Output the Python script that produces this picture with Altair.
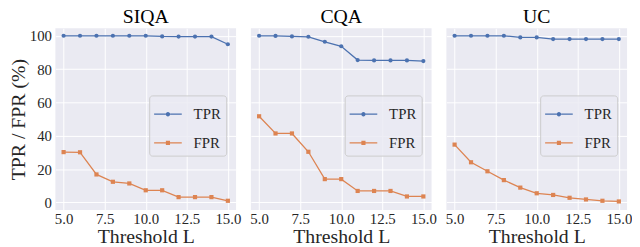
import altair as alt
import pandas as pd

thresholds = [5, 6, 7, 8, 9, 10, 11, 12, 13, 14, 15]
datasets = ["SIQA", "CQA", "UC"]
siqa_tpr = [100, 100, 100, 100, 100, 100, 99.6, 99.5, 99.5, 99.5, 94.9]
siqa_fpr = [30.2, 30.1, 16.8, 12.4, 11.4, 7.3, 7.3, 3.2, 3.2, 3.2, 1.0]
cqa_tpr = [100, 99.9, 99.6, 99.4, 96.4, 93.7, 85.4, 85.2, 85.2, 85.2, 84.8]
cqa_fpr = [51.7, 41.4, 41.4, 30.4, 14.0, 14.0, 6.9, 6.9, 6.9, 3.6, 3.6]
uc_tpr = [100, 100, 100, 100, 99.0, 99.0, 98.0, 98.0, 98.0, 98.0, 98.0]
uc_fpr = [34.7, 24.1, 18.7, 13.4, 8.9, 5.5, 4.5, 2.8, 1.8, 1.0, 0.6]
metrics = ["TPR", "FPR"]
colors = ["#4C72B0", "#DD8452"]
x_ticks = [5, 7.5, 10, 12.5, 15]
y_ticks = [0, 20, 40, 60, 80, 100]

FONT = "Liberation Serif"
TXT = "#262626"

# legend symbols: line with marker (unit coords, scaled by symbol size)
TPR_SYM = ("M-1,-0.045H-0.16V0.045H-1Z M0.16,-0.045H1V0.045H0.16Z "
           "M0.16,0A0.16,0.16 0 1,1 -0.16,0A0.16,0.16 0 1,1 0.16,0Z")
FPR_SYM = ("M-1,-0.045H-0.15V0.045H-1Z M0.15,-0.045H1V0.045H0.15Z "
           "M-0.15,-0.15H0.15V0.15H-0.15Z")


def panel(name, tpr, fpr, first):
    n = len(thresholds)
    df = pd.DataFrame({
        "L": thresholds + thresholds,
        "value": tpr + fpr,
        "metric": ["TPR"] * n + ["FPR"] * n,
    })
    x = alt.X("L:Q", scale=alt.Scale(domain=[4.5, 15.5], nice=False, zero=False),
              axis=alt.Axis(values=x_ticks, format=".1f", title="Threshold L",
                            labelFont=FONT, titleFont=FONT, labelFontSize=15,
                            titleFontSize=20, labelFlush=False, labelPadding=2,
                            titlePadding=0))
    if first:
        yaxis = alt.Axis(values=y_ticks, format="d", title="TPR / FPR (%)",
                         labelFont=FONT, titleFont=FONT, labelFontSize=15,
                         titleFontSize=20, labelPadding=4, titlePadding=1)
    else:
        yaxis = alt.Axis(values=y_ticks, labels=False, title=None)
    y = alt.Y("value:Q", scale=alt.Scale(domain=[-4.5, 104.5], nice=False, zero=False),
              axis=yaxis)
    base = alt.Chart(df).encode(x=x, y=y)
    layers = []
    for m, c, shp in zip(metrics, colors, ["circle", "square"]):
        sub = base.transform_filter(alt.datum.metric == m)
        layers.append(sub.mark_line(strokeWidth=1.3, color=c))
        layers.append(sub.mark_point(shape=shp, filled=True, size=18, opacity=1, color=c))
    leg = alt.Legend(title=None, orient="none", legendX=95, legendY=68,
                     direction="vertical", fillColor="rgba(234,234,242,0.8)",
                     strokeColor="#CCCCCC", cornerRadius=3, padding=5,
                     symbolSize=784, symbolStrokeWidth=0, symbolOpacity=1,
                     labelFont=FONT, labelFontSize=15, labelColor=TXT,
                     labelOffset=12, rowPadding=7)
    legend_layer = base.transform_filter("false").mark_point(
        filled=True, opacity=1).encode(
        color=alt.Color("metric:N", scale=alt.Scale(domain=metrics, range=colors), legend=leg),
        shape=alt.Shape("metric:N", scale=alt.Scale(domain=metrics, range=[TPR_SYM, FPR_SYM]),
                        legend=leg))
    layers.append(legend_layer)
    return alt.layer(*layers).properties(
        width=183, height=184,
        title=alt.TitleParams(name, font=FONT, fontSize=20, fontWeight="normal",
                              color="black", offset=-19, baseline="bottom"))


p1 = panel("SIQA", siqa_tpr, siqa_fpr, True)
p2 = panel("CQA", cqa_tpr, cqa_fpr, False)
p3 = panel("UC", uc_tpr, uc_fpr, False)

chart = alt.hconcat(p1, p2, p3, spacing=15, bounds="flush").resolve_scale(
    color="independent", shape="independent", x="independent", y="independent"
).resolve_legend(color="independent", shape="independent").properties(
    padding={"left": 0, "top": -2, "right": 0, "bottom": 0}
).configure_view(fill="#EAEAF2", stroke=None).configure_axis(
    labelFont=FONT, titleFont=FONT, labelFontSize=15, titleFontSize=20,
    labelColor=TXT, titleColor=TXT, titleFontWeight="normal",
    gridColor="white", gridOpacity=1, gridWidth=1, domain=False,
    ticks=False, tickSize=0
).configure_title(font=FONT, fontWeight="normal")

chart.save("out.html", embed_options={"renderer": "svg", "actions": False})
